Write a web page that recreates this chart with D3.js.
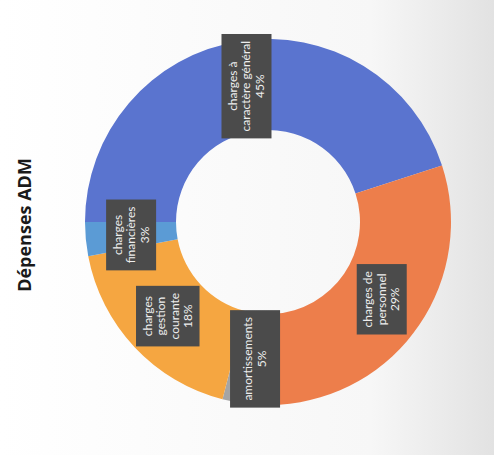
<!DOCTYPE html>
<html>
<head>
<meta charset="utf-8">
<script src="https://cdn.jsdelivr.net/npm/d3@7"></script>
<style>
  body { margin: 0; background: #fff; }
  svg { display: block; }
</style>
</head>
<body>
<div class="chart"></div>
<script>
const categories = ["charges à caractère général", "charges de personnel", "amortissements", "charges gestion courante", "charges financières"];
const values = [45, 29, 5, 18, 3];
const label_lines = [
    ["charges à", "caractère général"],
    ["charges de", "personnel"],
    ["amortissements"],
    ["charges", "gestion", "courante"],
    ["charges", "financières"]
];
const colors = ["#5a74cf", "#ed7e4b", "#a5a5a5", "#f5a641", "#5b9bd5"];
const title = "Dépenses ADM";

function draw_chart(){
    const width = 494;
    const height = 455;
    const cx = 268, cy = 222;
    const outer = 183, inner = 92;

    const svg = d3.select('.chart')
        .append('svg')
        .attr('width', width)
        .attr('height', height);

    // scanned paper look
    const grad = svg.append("defs").append("linearGradient")
        .attr("id", "paper")
        .attr("x1", "0").attr("x2", "1").attr("y1", "0").attr("y2", "0");
    grad.append("stop").attr("offset", "0").attr("stop-color", "#ffffff");
    grad.append("stop").attr("offset", "0.75").attr("stop-color", "#f7f7f7");
    grad.append("stop").attr("offset", "1").attr("stop-color", "#e2e2e2");
    svg.append("rect")
        .attr("width", width)
        .attr("height", height)
        .attr("fill", "url(#paper)");

    // whole chart is rotated a quarter turn, like the scan
    const g = svg.append("g")
        .attr("transform", "translate(" + cx + "," + cy + ") rotate(-90)");

    const pie = d3.pie().sort(null).value(d => d);
    const arcs = pie(values);
    const arc = d3.arc().innerRadius(inner).outerRadius(outer);

    g.selectAll(".slice")
        .data(arcs)
        .enter()
        .append("path")
        .attr("class", "slice")
        .attr("d", arc)
        .attr("fill", (d, i) => colors[i]);

    const labels = g.selectAll(".lbl")
        .data(arcs)
        .enter()
        .append("g")
        .attr("class", "lbl")
        .attr("transform", d => "translate(" + arc.centroid(d) + ")");

    const line_h = 13.5;
    labels.each(function(d, i){
        const lab = d3.select(this);
        const lines = label_lines[i].concat([values[i] + "%"]);
        const box = lab.append("rect").attr("fill", "#4b4b4b");
        const txt = lab.append("text")
            .attr("text-anchor", "middle")
            .attr("fill", "#eeeeee")
            .attr("font-family", "Lato, 'Open Sans', sans-serif")
            .attr("font-size", "12px");
        lines.forEach((s, k) => {
            txt.append("tspan")
                .attr("x", 0)
                .attr("y", (k - (lines.length - 1) / 2) * line_h + 4)
                .text(s);
        });
        const bb = txt.node().getBBox();
        const bw = bb.width + 14;
        const bh = Math.max(50, bb.height + 8);
        box.attr("x", -bw / 2)
            .attr("y", -bh / 2)
            .attr("width", bw)
            .attr("height", bh);
    });

    svg.append("text")
        .attr("transform", "translate(31," + 225 + ") rotate(-90)")
        .attr("text-anchor", "middle")
        .attr("font-family", "'Open Sans', sans-serif")
        .attr("font-weight", "bold")
        .attr("font-size", "18px")
        .attr("fill", "#1a1a1a")
        .text(title);
}

draw_chart();
</script>
</body>
</html>
